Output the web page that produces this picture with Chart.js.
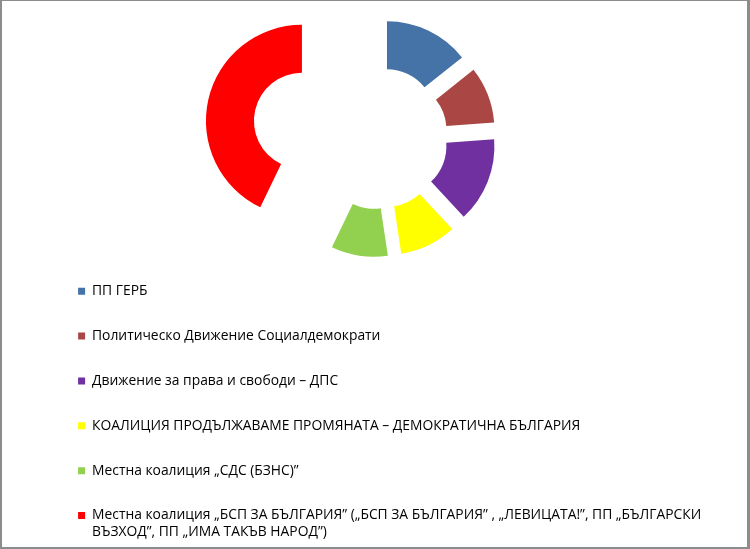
<!DOCTYPE html>
<html>
<head>
<meta charset="utf-8">
<script src="https://cdn.jsdelivr.net/npm/chart.js@4.4.1/dist/chart.umd.min.js"></script>
<style>
  html, body { margin: 0; padding: 0; background: #ffffff; }
  #wrap { position: relative; width: 750px; height: 549px; overflow: hidden; background: #ffffff; }
  #c { position: absolute; left: 0; top: 0; }
  #frame { position: absolute; left: 0; top: 0; width: 750px; height: 549px; box-sizing: border-box;
           border-style: solid; border-color: #8c8c8c; border-width: 1px 3px 2px 2px; pointer-events: none; }
</style>
</head>
<body>
<div id="wrap">
  <canvas id="c" width="750" height="549"></canvas>
  <div id="frame"></div>
</div>
<script>
// ---- data ----
const categories = [
  'ПП ГЕРБ',
  'Политическо Движение Социалдемократи',
  'Движение за права и свободи – ДПС',
  'КОАЛИЦИЯ ПРОДЪЛЖАВАМЕ ПРОМЯНАТА – ДЕМОКРАТИЧНА БЪЛГАРИЯ',
  'Местна коалиция „СДС (БЗНС)”',
  ['Местна коалиция „БСП ЗА БЪЛГАРИЯ” („БСП ЗА БЪЛГАРИЯ” , „ЛЕВИЦАТА!”, ПП „БЪЛГАРСКИ',
   'ВЪЗХОД”, ПП „ИМА ТАКЪВ НАРОД”)']
];
const seats = [3, 2, 3, 2, 2, 9];
const colors = ['#4572A7', '#AA4643', '#7030A0', '#FFFF00', '#92D050', '#FF0000'];

// ---- plugins ----
// pulls each slice away from the centre along its mid-angle (Excel-style explosion)
const explodePlugin = {
  id: 'explode',
  afterDatasetsUpdate(chart, args, opts) {
    const meta = chart.getDatasetMeta(0);
    meta.data.forEach((arc, i) => {
      const d = (opts.distances && opts.distances[i]) || 0;
      const mid = (arc.startAngle + arc.endAngle) / 2;
      arc.x += Math.cos(mid) * d;
      arc.y += Math.sin(mid) * d;
    });
  }
};
// places the (vertical) legend box in the lower part of the canvas
const legendBoxPlugin = {
  id: 'legendBox',
  beforeDraw(chart, args, opts) {
    const lg = chart.legend;
    if (!lg) return;
    lg.left = opts.left; lg.top = opts.top;
    lg.right = opts.right; lg.bottom = opts.bottom;
    lg.width = opts.right - opts.left; lg.height = opts.bottom - opts.top;
  }
};

new Chart(document.getElementById('c'), {
  type: 'doughnut',
  data: {
    labels: categories,
    datasets: [{
      data: seats,
      backgroundColor: colors,
      borderWidth: 0,
      clip: false
    }]
  },
  options: {
    responsive: false,
    animation: false,
    events: [],
    cutout: '50%',
    layout: { padding: { left: 4, right: 0, top: 42, bottom: 315 } },
    plugins: {
      tooltip: { enabled: false },
      explode: { distances: [23, 23, 23, 23, 23, 77] },
      legendBox: { left: 47.1, top: 253.3, right: 750, bottom: 700 },
      legend: {
        position: 'chartArea',
        align: 'start',
        labels: {
          boxWidth: 7,
          boxHeight: 7,
          padding: 31,
          color: '#000000',
          font: { family: "'Open Sans', sans-serif", size: 13.85, lineHeight: 1.2 }
        }
      }
    }
  },
  plugins: [explodePlugin, legendBoxPlugin]
});
</script>
</body>
</html>
